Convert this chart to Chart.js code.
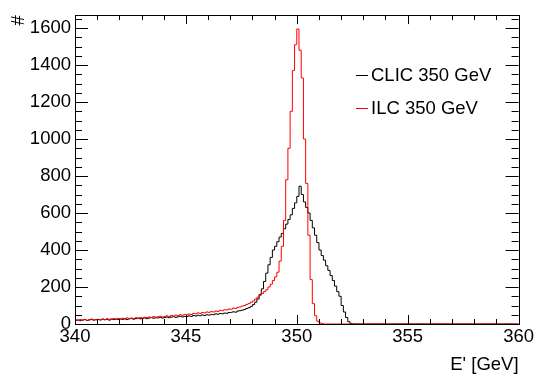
<!DOCTYPE html>
<html>
<head>
<meta charset="utf-8">
<script src="https://cdn.jsdelivr.net/npm/chart.js@4.4.1/dist/chart.umd.min.js"></script>
<style>
  html, body { margin: 0; padding: 0; background: #fff; }
  #box { width: 536px; height: 374px; }
</style>
</head>
<body>
<div id="box"><canvas id="chart"></canvas></div>
<script>
// histogram bins: low edge of first bin and bin width (GeV)
const binStart = 340;
const binWidth = 0.1;
const xMin = 340;
const xMax = 360;
const yMax = 1670;
const xTickLabels = [340, 345, 350, 355, 360];
const yTickLabels = [0, 200, 400, 600, 800, 1000, 1200, 1400, 1600];
const seriesNames = ['CLIC 350 GeV', 'ILC 350 GeV'];

// CLIC 350 GeV, one value per bin from 340.0 to 352.5
const clic = [
  20, 22, 18, 21, 24, 19, 22, 25, 21, 23,
  24, 22, 26, 23, 25, 21, 27, 24, 26, 25,
  27, 25, 29, 24, 28, 30, 26, 29, 31, 28,
  30, 33, 29, 32, 35, 31, 34, 33, 36, 32,
  35, 38, 34, 37, 40, 36, 39, 42, 38, 41,
  40, 44, 41, 46, 43, 47, 45, 49, 46, 50,
  48, 52, 50, 55, 53, 57, 55, 59, 58, 62,
  63, 66, 64, 70, 72, 75, 78, 84, 88, 95,
  105, 118, 135, 160, 190, 230, 275, 320, 360, 400,
  420, 445, 470, 490, 515, 540, 565, 590, 625, 655,
  690, 745, 700, 660, 630, 600, 560, 520, 480, 440,
  400, 370, 345, 315, 290, 262, 235, 205, 175, 150,
  100, 65, 35, 12, 3, 0
];

// ILC 350 GeV, same bins
const ilc = [
  22, 19, 24, 21, 25, 20, 23, 26, 22, 24,
  25, 23, 27, 24, 28, 26, 25, 29, 27, 30,
  28, 31, 27, 33, 30, 32, 29, 34, 31, 35,
  33, 36, 34, 38, 35, 40, 37, 39, 42, 38,
  41, 44, 40, 46, 43, 48, 45, 50, 47, 52,
  50, 54, 51, 57, 55, 60, 57, 62, 60, 65,
  63, 67, 65, 70, 68, 74, 72, 77, 76, 81,
  80, 86, 84, 90, 92, 97, 100, 106, 110, 118,
  125, 135, 145, 155, 165, 175, 185, 200, 215, 235,
  255, 280, 340, 420, 560, 780, 950, 1150, 1370, 1510,
  1595, 1480, 1330, 1000, 760, 480, 240, 110, 45, 15,
  6, 2, 0, 0, 0, 0, 0, 0, 0, 0,
  0, 0, 0, 0, 0, 0
];

const font = '"Liberation Sans", Arial, Helvetica, sans-serif';
const fontSize = 18.5;

// points at bin low edges, plus the empty range up to 360
const toPoints = (values) => {
  const pts = values.map((v, i) => ({ x: binStart + i * binWidth, y: v }));
  pts.push({ x: xMax, y: 0 });
  return pts;
};

// ROOT style frame, inner ticks, legend and titles
const rootStyle = {
  id: 'rootStyle',
  afterDatasetsDraw(chart) {
    const ctx = chart.ctx;
    const a = chart.chartArea;
    const xs = chart.scales.x;
    const ys = chart.scales.y;
    ctx.save();
    ctx.strokeStyle = '#000';
    ctx.lineWidth = 1;
    ctx.beginPath();
    for (let v = xMin; v <= xMax; v++) {
      const px = Math.round(xs.getPixelForValue(v)) + 0.5;
      const len = v % 5 === 0 ? 9 : 5;
      ctx.moveTo(px, a.bottom);
      ctx.lineTo(px, a.bottom - len);
      ctx.moveTo(px, a.top);
      ctx.lineTo(px, a.top + len);
    }
    for (let v = 0; v <= yMax; v += 50) {
      const py = Math.round(ys.getPixelForValue(v)) + 0.5;
      const len = v % 200 === 0 ? 13 : 7;
      ctx.moveTo(a.left, py);
      ctx.lineTo(a.left + len, py);
      ctx.moveTo(a.right, py);
      ctx.lineTo(a.right - len, py);
    }
    ctx.stroke();
    ctx.strokeRect(Math.round(a.left) + 0.5, Math.round(a.top) + 0.5,
      Math.round(a.right - a.left), Math.round(a.bottom - a.top));

    // legend
    ctx.font = fontSize + 'px ' + font;
    ctx.textBaseline = 'middle';
    ctx.textAlign = 'left';
    const legendY = [75, 108];
    chart.data.datasets.slice().reverse().forEach((ds, i) => {
      ctx.strokeStyle = ds.borderColor;
      ctx.beginPath();
      ctx.moveTo(356, legendY[i] + 0.5);
      ctx.lineTo(368, legendY[i] + 0.5);
      ctx.stroke();
      ctx.fillStyle = '#000';
      ctx.fillText(ds.label, 371, legendY[i] + 1);
    });

    // axis titles
    ctx.textAlign = 'right';
    ctx.textBaseline = 'alphabetic';
    ctx.fillText("E' [GeV]", a.right, 370);
    ctx.translate(24, a.top);
    ctx.rotate(-Math.PI / 2);
    ctx.textAlign = 'right';
    ctx.fillText('#', 0, 0);
    ctx.restore();
  }
};

const chart = new Chart(document.getElementById('chart'), {
  type: 'line',
  data: {
    datasets: [{
      label: seriesNames[1],
      data: toPoints(ilc),
      borderColor: '#ff0000',
      borderWidth: 1,
      stepped: true,
      pointRadius: 0,
      order: 0
    }, {
      label: seriesNames[0],
      data: toPoints(clic),
      borderColor: '#000000',
      borderWidth: 1,
      stepped: true,
      pointRadius: 0,
      order: 1
    }]
  },
  options: {
    responsive: true,
    maintainAspectRatio: false,
    animation: false,
    layout: { padding: { left: 0, right: 16, top: 13, bottom: 0 } },
    plugins: { legend: { display: false }, tooltip: { enabled: false } },
    scales: {
      x: {
        type: 'linear',
        min: xMin,
        max: xMax,
        afterBuildTicks: (scale) => { scale.ticks = xTickLabels.map(v => ({ value: v })); },
        afterFit: (scale) => { scale.height = 50; },
        grid: { display: false, drawTicks: false },
        border: { display: false },
        ticks: { color: '#000', padding: 2, font: { family: font, size: fontSize }, maxRotation: 0, autoSkip: false,
          callback: (v) => String(v) }
      },
      y: {
        min: 0,
        max: yMax,
        afterBuildTicks: (scale) => { scale.ticks = yTickLabels.map(v => ({ value: v })); },
        afterFit: (scale) => { scale.width = 75; },
        grid: { display: false, drawTicks: false },
        border: { display: false },
        ticks: { color: '#000', padding: 4, font: { family: font, size: fontSize },
          callback: (v) => String(v) }
      }
    }
  },
  plugins: [rootStyle]
});
</script>
</body>
</html>
